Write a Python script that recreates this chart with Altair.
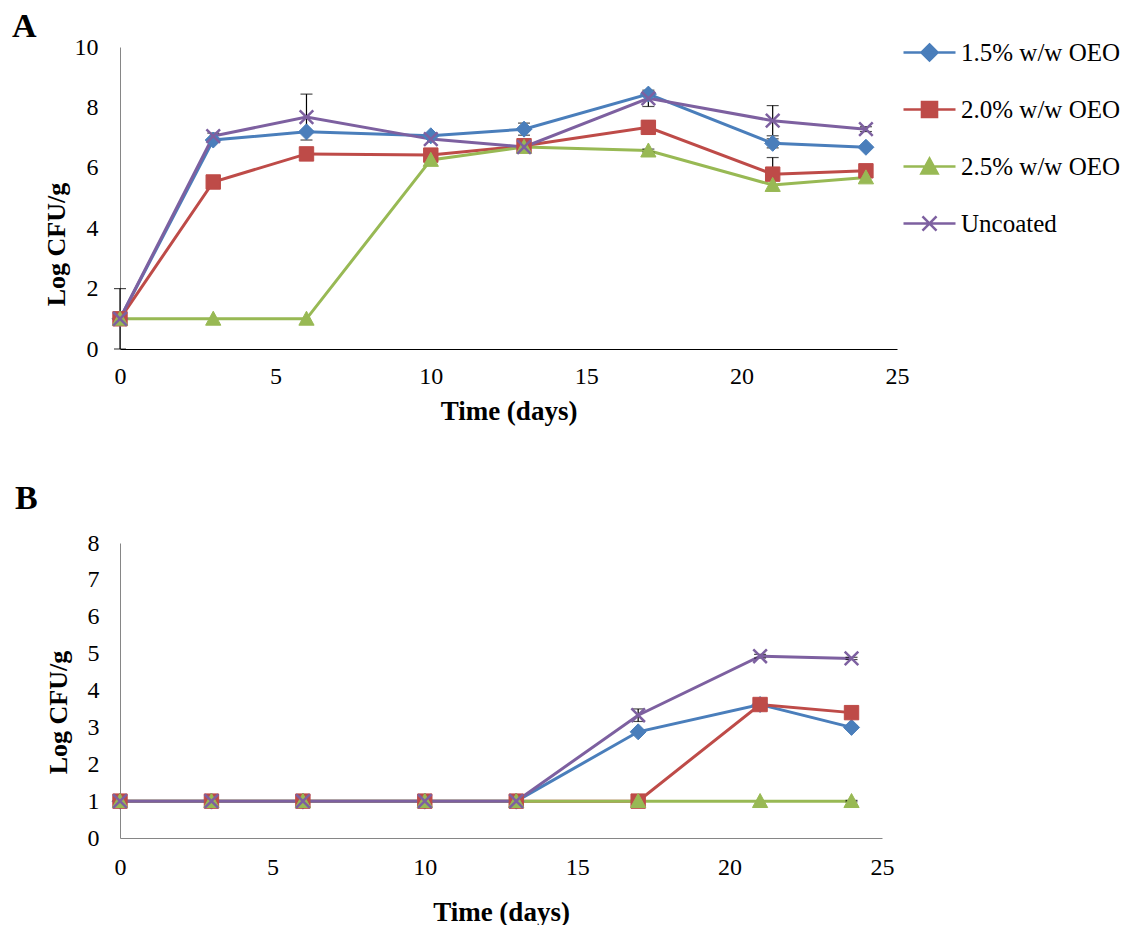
import altair as alt
import pandas as pd

SERIES = ["1.5% w/w OEO", "2.0% w/w OEO", "2.5% w/w OEO", "Uncoated"]
COLORS = ["#4A7EBB", "#BE4B48", "#98B954", "#7D60A0"]
DAYS = [0, 3, 6, 10, 13, 17, 21, 24]

# Panel A values (Log CFU/g) and error bar half-widths
A_15 = [1.0, 6.92, 7.19, 7.06, 7.28, 8.44, 6.81, 6.68]
A_20 = [1.0, 5.53, 6.46, 6.42, 6.73, 7.34, 5.79, 5.90]
A_25 = [1.0, 1.0, 1.0, 6.26, 6.69, 6.57, 5.43, 5.68]
A_UN = [1.0, 7.05, 7.68, 6.95, 6.69, 8.30, 7.56, 7.28]
A_15_ERR = [0, 0, 0, 0, 0.20, 0.05, 0.15, 0]
A_20_ERR = [0, 0, 0, 0, 0.05, 0.22, 0.55, 0]
A_25_ERR = [0, 0, 0, 0, 0, 0.05, 0, 0.15]
A_UN_ERR = [1.0, 0.10, 0.76, 0, 0, 0.27, 0.50, 0.08]

# Panel B values
B_15 = [1.0, 1.0, 1.0, 1.0, 1.0, 2.88, 3.62, 3.00]
B_20 = [1.0, 1.0, 1.0, 1.0, 1.0, 1.00, 3.62, 3.40]
B_25 = [1.0, 1.0, 1.0, 1.0, 1.0, 1.00, 1.00, 1.00]
B_UN = [1.0, 1.0, 1.0, 1.0, 1.0, 3.33, 4.93, 4.87]
B_15_ERR = [0, 0, 0, 0, 0, 0, 0, 0.05]
B_20_ERR = [0, 0, 0, 0, 0, 0, 0, 0]
B_25_ERR = [0, 0, 0, 0, 0, 0, 0, 0.02]
B_UN_ERR = [0, 0, 0, 0, 0, 0.17, 0.05, 0.03]

X_TICKS = [0, 5, 10, 15, 20, 25]
A_Y_TICKS = [0, 2, 4, 6, 8, 10]
B_Y_TICKS = [0, 1, 2, 3, 4, 5, 6, 7, 8]

# marker paths (unit square [-1,1])
MARKERS = [
    "M0,-1L1,0L0,1L-1,0Z",
    "M-0.9,-0.9L0.9,-0.9L0.9,0.9L-0.9,0.9Z",
    "M0,-0.95L0.95,0.8L-0.95,0.8Z",
    "M-0.85,-0.85L0.85,0.85M-0.85,0.85L0.85,-0.85",
]
LEGEND_PATHS = [
    "M-1,0L1,0M0,-0.31L0.31,0L0,0.31L-0.31,0Z",
    "M-1,0L1,0M-0.29,-0.29L0.29,-0.29L0.29,0.29L-0.29,0.29Z",
    "M-1,0L1,0M0,-0.3L0.31,0.27L-0.31,0.27Z",
    "M-1,0L1,0M-0.27,-0.27L0.27,0.27M-0.27,0.27L0.27,-0.27",
]

FONT = "Liberation Serif"


def make_df(vals, errs):
    rows = []
    for s, v, e in zip(SERIES, vals, errs):
        for d, vv, ee in zip(DAYS, v, e):
            rows.append({"day": d, "value": vv, "err": ee, "series": s})
    return pd.DataFrame(rows)


dfA = make_df([A_15, A_20, A_25, A_UN], [A_15_ERR, A_20_ERR, A_25_ERR, A_UN_ERR])
dfB = make_df([B_15, B_20, B_25, B_UN], [B_15_ERR, B_20_ERR, B_25_ERR, B_UN_ERR])


def panel(df, ymax, yticks, width, height, letter, title_dx, title_dy,
          ydom_color, xdom_color, ylab_pad, ytitle_pad, ytitle_y,
          xlab_pad, xtitle_pad, with_legend):
    xax = alt.Axis(values=X_TICKS, title="Time (days)", grid=False, ticks=False, tickSize=0,
                   labelFont=FONT, labelFontSize=24, labelColor="black", labelPadding=xlab_pad,
                   titleFont=FONT, titleFontSize=27, titleFontWeight="bold", titleColor="black",
                   titlePadding=xtitle_pad, domainColor=xdom_color, domainWidth=1, labelFlush=False)
    yax = alt.Axis(values=yticks, title="Log CFU/g", grid=False, ticks=False, tickSize=0,
                   labelFont=FONT, labelFontSize=24, labelColor="black", labelPadding=ylab_pad,
                   titleFont=FONT, titleFontSize=26, titleFontWeight="bold", titleColor="black",
                   titlePadding=ytitle_pad, titleY=ytitle_y, domainColor=ydom_color, domainWidth=1)
    xs = alt.Scale(domain=[0, 25], nice=False)
    ys = alt.Scale(domain=[0, ymax], nice=False)

    base = alt.Chart(df)
    X = alt.X("day:Q", scale=xs, axis=xax)

    layers = []
    for s, c in zip(SERIES, COLORS):
        layers.append(
            base.transform_filter(alt.datum.series == s).mark_line(strokeWidth=3, color=c).encode(
                x=X, y=alt.Y("value:Q", scale=ys, axis=yax))
        )

    err = base.transform_filter("datum.err > 0").transform_calculate(
        lo="datum.value - datum.err", hi="datum.value + datum.err")
    layers.append(err.mark_rule(color="black", strokeWidth=1.2).encode(
        x=X, y=alt.Y("lo:Q", scale=ys, axis=yax), y2="hi:Q"))
    layers.append(err.mark_tick(orient="horizontal", color="black", size=12, thickness=1.2).encode(
        x=X, y=alt.Y("lo:Q", scale=ys, axis=yax)))
    layers.append(err.mark_tick(orient="horizontal", color="black", size=12, thickness=1.2).encode(
        x=X, y=alt.Y("hi:Q", scale=ys, axis=yax)))

    for s, c, m in zip(SERIES, COLORS, MARKERS):
        layers.append(
            base.transform_filter(alt.datum.series == s).mark_point(
                shape=m, filled=True, size=256, fill=c, stroke=c,
                strokeWidth=2.5 if s == "Uncoated" else 1, opacity=1,
            ).encode(x=X, y=alt.Y("value:Q", scale=ys, axis=yax))
        )

    if with_legend:
        leg = alt.Legend(title=None, orient="none", legendX=width + 5, legendY=-22,
                         symbolSize=2704, symbolStrokeWidth=2.5, labelFont=FONT,
                         labelFontSize=25, labelColor="black", labelOffset=4,
                         rowPadding=16, labelLimit=400)
        layers.append(
            base.transform_filter("datum.day < 0").mark_point(
                filled=True, size=2704, strokeWidth=2.5, opacity=1
            ).encode(
                x=X,
                y=alt.Y("value:Q", scale=ys, axis=yax),
                fill=alt.Fill("series:N", scale=alt.Scale(domain=SERIES, range=COLORS), legend=leg),
                stroke=alt.Stroke("series:N", scale=alt.Scale(domain=SERIES, range=COLORS), legend=leg),
                shape=alt.Shape("series:N", scale=alt.Scale(domain=SERIES, range=LEGEND_PATHS), legend=leg),
            )
        )

    return alt.layer(*layers).properties(
        width=width, height=height,
        title=alt.TitleParams(letter, anchor="start", frame="group", font=FONT, fontSize=34,
                              fontWeight="bold", color="black", dx=title_dx, dy=title_dy, offset=0),
    )


pA = panel(dfA, 10, A_Y_TICKS, 777, 302, "A", -108, 9, "#868686", "black",
           22, 5, 197, 15, 10, True)
pB = panel(dfB, 8, B_Y_TICKS, 762, 295, "B", -105, -15, "#868686", "#868686",
           21, 16, 169, 17, 20, False)

chart = alt.vconcat(pA, pB, spacing=58).properties(
    padding={"left": 12, "top": 10, "right": 0, "bottom": 0},
    background="white",
).configure_view(stroke=None)

chart.save("out.html", embed_options={"renderer": "svg", "actions": False})
